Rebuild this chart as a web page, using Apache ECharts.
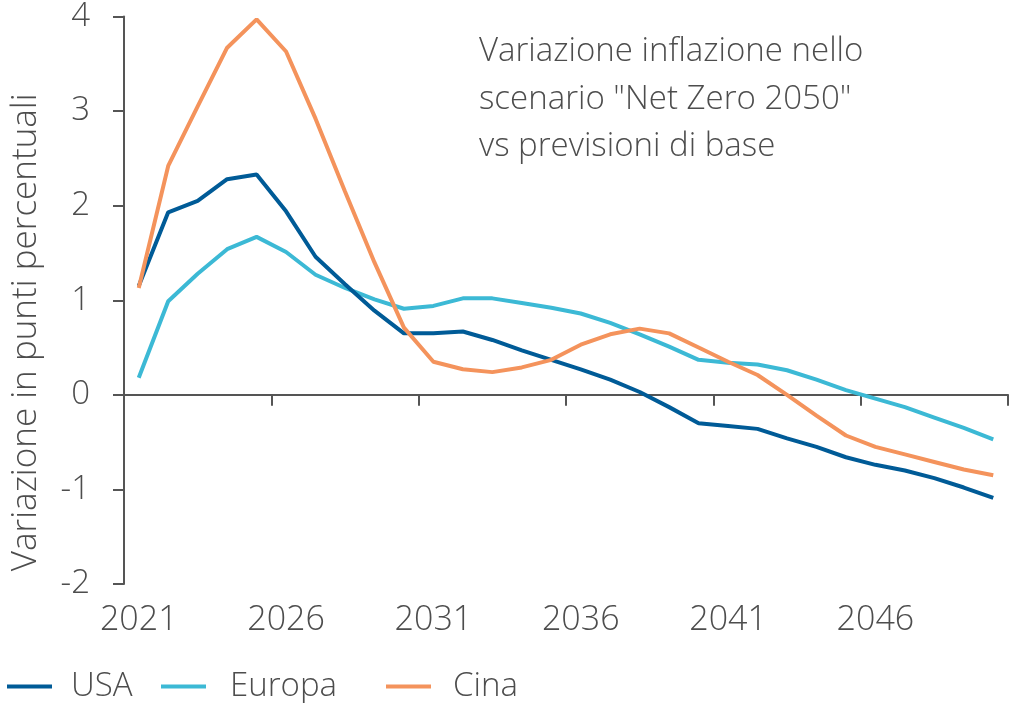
<!DOCTYPE html>
<html>
<head>
<meta charset="utf-8">
<script src="https://cdn.jsdelivr.net/npm/echarts@6/dist/echarts.min.js"></script>
<style>html,body{margin:0;padding:0;background:#fff;}#c{width:1013px;height:703px;}</style>
</head>
<body>
<div id="c"></div>
<script>
const years = ['2021','2022','2023','2024','2025','2026','2027','2028','2029','2030','2031','2032','2033','2034','2035','2036','2037','2038','2039','2040','2041','2042','2043','2044','2045','2046','2047','2048','2049','2050'];
const usa = [1.15, 1.93, 2.05, 2.28, 2.33, 1.94, 1.46, 1.17, 0.89, 0.65, 0.65, 0.67, 0.58, 0.47, 0.37, 0.27, 0.16, 0.03, -0.13, -0.30, -0.33, -0.36, -0.46, -0.55, -0.66, -0.74, -0.80, -0.88, -0.98, -1.09];
const europa = [0.18, 0.99, 1.28, 1.54, 1.67, 1.51, 1.27, 1.13, 1.01, 0.91, 0.94, 1.02, 1.02, 0.97, 0.92, 0.86, 0.76, 0.64, 0.51, 0.37, 0.34, 0.32, 0.26, 0.16, 0.05, -0.04, -0.13, -0.24, -0.35, -0.47];
const cina = [1.13, 2.42, 3.05, 3.67, 3.97, 3.63, 2.92, 2.15, 1.40, 0.71, 0.35, 0.27, 0.24, 0.29, 0.37, 0.53, 0.64, 0.70, 0.65, 0.50, 0.35, 0.21, 0.00, -0.22, -0.43, -0.55, -0.63, -0.71, -0.79, -0.85];
const yTicks = [-2, -1, 0, 1, 2, 3, 4];
const titleLines = ['Variazione inflazione nello', 'scenario "Net Zero 2050"', 'vs previsioni di base'];
const yName = 'Variazione in punti percentuali';

const FONT = '"Open Sans", "Noto Sans", sans-serif';
const TXT = '#4d4d4d';
const AX = '#555555';
const colors = { USA: '#005b97', Europa: '#3cb9d5', Cina: '#f4935c' };

const chart = echarts.init(document.getElementById('c'), null, { renderer: 'canvas' });

function legendFor(name, left, pad) {
  return {
    data: [name], left: left, top: 665, orient: 'horizontal',
    icon: 'rect', itemWidth: 45, itemHeight: 4, itemGap: 0,
    textStyle: { fontFamily: FONT, fontSize: 33, fontWeight: 300, color: TXT, padding: [0, 0, 0, pad] }
  };
}

chart.setOption({
  animation: false,
  backgroundColor: '#ffffff',
  grid: { left: 124, right: 5, top: 16, bottom: 119, containLabel: false },
  legend: [legendFor('USA', 2, 14), legendFor('Europa', 156, 19), legendFor('Cina', 381, 17)],
  graphic: [{
    type: 'text', left: 479, top: 28,
    style: { text: titleLines.join('\n'), font: '300 33px ' + FONT, fill: TXT, lineHeight: 47.5 }
  }],
  xAxis: [{
    type: 'category', data: years, boundaryGap: true, position: 'bottom',
    axisLine: { show: true, onZero: true, lineStyle: { color: AX, width: 2 } },
    axisTick: { show: true, interval: 4, length: 11, inside: false, lineStyle: { color: AX, width: 2 } },
    axisLabel: { show: false },
    splitLine: { show: false }
  }, {
    type: 'category', data: years, boundaryGap: true, position: 'bottom',
    axisLine: { show: false, onZero: false },
    axisTick: { show: false },
    axisLabel: { show: true, interval: 4, margin: 19, fontFamily: FONT, fontSize: 34, fontWeight: 300, color: TXT },
    splitLine: { show: false }
  }],
  yAxis: {
    type: 'value', min: -2, max: 4, interval: 1,
    name: yName, nameLocation: 'middle', nameGap: 80, nameRotate: 90,
    nameTextStyle: { fontFamily: FONT, fontSize: 35, fontWeight: 300, color: TXT, padding: [0, 64, 0, 0] },
    axisLine: { show: true, lineStyle: { color: AX, width: 2 } },
    axisTick: { show: true, length: 11, lineStyle: { color: AX, width: 2 } },
    axisLabel: { margin: 34, fontFamily: FONT, fontSize: 33, fontWeight: 300, color: TXT,
      formatter: v => yTicks.includes(v) ? String(v) : '' },
    splitLine: { show: false }
  },
  series: [
    { name: 'USA', type: 'line', data: usa, xAxisIndex: 0, symbol: 'none', lineStyle: { width: 4, color: colors.USA }, itemStyle: { color: colors.USA }, z: 3 },
    { name: 'Europa', type: 'line', data: europa, xAxisIndex: 0, symbol: 'none', lineStyle: { width: 4, color: colors.Europa }, itemStyle: { color: colors.Europa }, z: 2 },
    { name: 'Cina', type: 'line', data: cina, xAxisIndex: 0, symbol: 'none', lineStyle: { width: 4, color: colors.Cina }, itemStyle: { color: colors.Cina }, z: 4 }
  ]
});
</script>
</body>
</html>
